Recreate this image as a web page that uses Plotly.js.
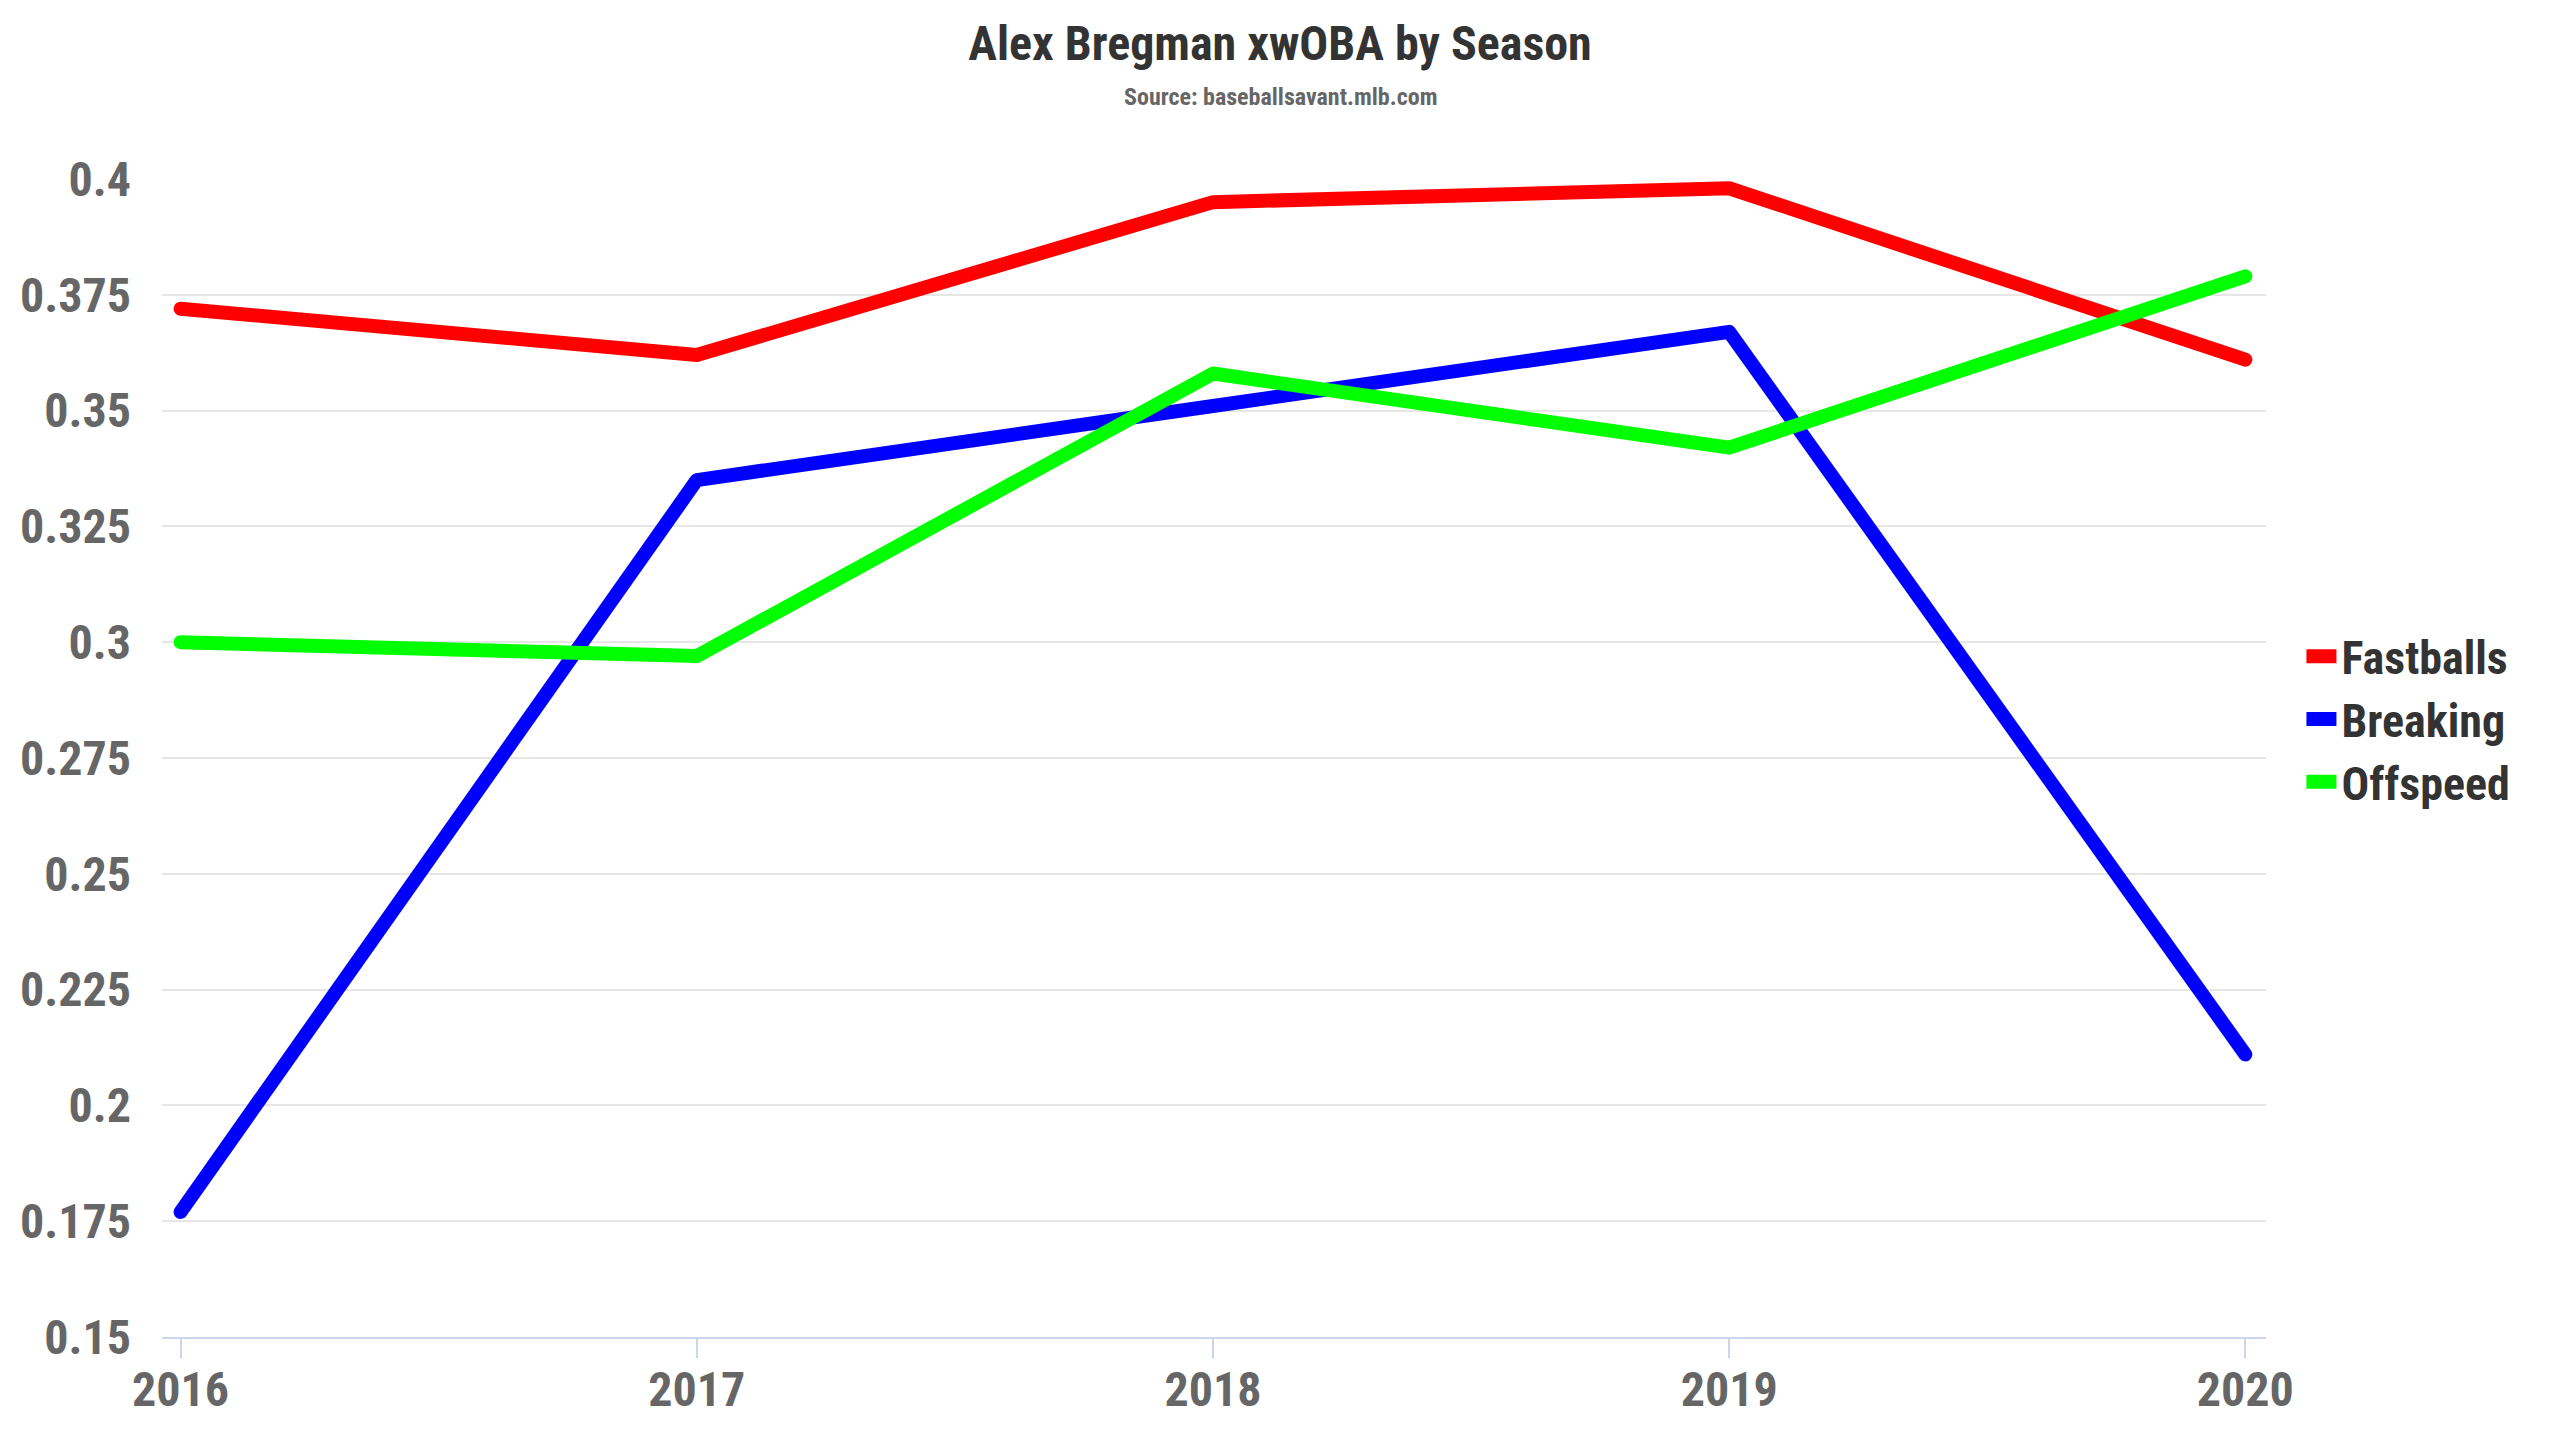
<!DOCTYPE html>
<html>
<head>
<meta charset="utf-8">
<script src="https://cdn.plot.ly/plotly-3.0.1.min.js"></script>
<style>
  html, body { margin: 0; padding: 0; background: #ffffff; }
  #chart { width: 2560px; height: 1440px; }
  .scatterlayer .js-line { stroke-linecap: round; stroke-linejoin: round; }
  .legendlines path { stroke-width: 14px !important; }
</style>
</head>
<body>
<div id="chart"></div>
<script>
// season xwOBA by pitch type
const seasons = [2016, 2017, 2018, 2019, 2020]
const seasonLabels = ['2016', '2017', '2018', '2019', '2020']
const fastballs = [0.372, 0.362, 0.395, 0.398, 0.361]
const breaking = [0.177, 0.335, 0.351, 0.367, 0.211]
const offspeed = [0.300, 0.297, 0.358, 0.342, 0.379]

const yTicks = [0.15, 0.175, 0.2, 0.225, 0.25, 0.275, 0.3, 0.325, 0.35, 0.375, 0.4]
const yTickLabels = ['0.15', '0.175', '0.2', '0.225', '0.25', '0.275', '0.3', '0.325', '0.35', '0.375', '0.4']

const fontFamily = '"Roboto Condensed", "Liberation Sans Narrow", "DejaVu Sans Condensed", Roboto, sans-serif'

function series(name, values, color) {
  return {
    x: seasons,
    y: values,
    name: name,
    type: 'scatter',
    mode: 'lines',
    line: {color: color, width: 14},
    hoverinfo: 'skip'
  }
}

const traces = [
  series('Fastballs', fastballs, '#ff0000'),
  series('Breaking', breaking, '#0000ff'),
  series('Offspeed', offspeed, '#00ff00')
]

const layout = {
  width: 2560,
  height: 1440,
  paper_bgcolor: '#ffffff',
  plot_bgcolor: '#ffffff',
  margin: {l: 162, r: 294, t: 179, b: 103, pad: 0},
  font: {family: fontFamily, color: '#666666', weight: 'bold'},
  title: {
    text: 'Alex Bregman xwOBA by Season',
    font: {family: fontFamily, size: 48, color: '#333333', weight: 'bold'},
    xref: 'container',
    x: 0.5,
    xanchor: 'center',
    yref: 'container',
    y: 0.970,
    yanchor: 'middle'
  },
  annotations: [{
    text: 'Source: baseballsavant.mlb.com',
    xref: 'paper',
    yref: 'paper',
    x: 0.5314,
    y: 1.0706,
    xanchor: 'center',
    yanchor: 'middle',
    showarrow: false,
    font: {family: fontFamily, size: 24, color: '#666666', weight: 'bold'}
  }],
  xaxis: {
    range: [2015.964, 2020.04],
    tickvals: seasons,
    ticktext: seasonLabels,
    showgrid: false,
    zeroline: false,
    showline: true,
    linecolor: '#ccd6eb',
    linewidth: 2,
    ticks: 'outside',
    ticklen: 19,
    tickwidth: 2,
    tickcolor: '#ccd6eb',
    ticklabelstandoff: -10,
    tickfont: {family: fontFamily, size: 48, color: '#666666', weight: 'bold'}
  },
  yaxis: {
    range: [0.15, 0.4],
    tickvals: yTicks,
    ticktext: yTickLabels,
    showgrid: true,
    gridcolor: '#e6e6e6',
    gridwidth: 2,
    zeroline: false,
    showline: false,
    ticks: '',
    ticklabelstandoff: 30,
    tickfont: {family: fontFamily, size: 48, color: '#666666', weight: 'bold'}
  },
  legend: {
    xref: 'container',
    yref: 'container',
    x: 0.899,
    xanchor: 'left',
    y: 0.5005,
    yanchor: 'middle',
    bgcolor: 'rgba(0,0,0,0)',
    borderwidth: 0,
    font: {family: fontFamily, size: 46, color: '#333333', weight: 'bold'},
    itemwidth: 30,
    tracegroupgap: 0
  },
  showlegend: true
}

Plotly.newPlot('chart', traces, layout, {displayModeBar: false, staticPlot: true})
</script>
</body>
</html>
